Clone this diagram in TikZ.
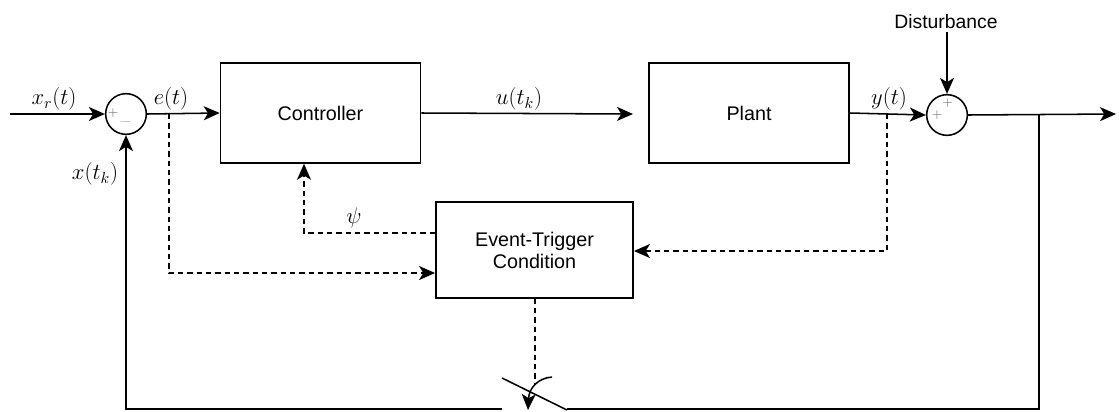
\RequirePackage{fix-cm}
\documentclass[tikz,border=0pt]{standalone}
\usepackage{fontspec}
\setsansfont{Liberation Sans}
\usetikzlibrary{arrows.meta}
\begin{document}
\begin{tikzpicture}[x=0.75pt,y=-0.75pt,
  line width=1.15pt,
  arr/.style={-{Stealth[length=12pt,width=10.5pt,inset=3.2pt]}},
  dsh/.style={dash pattern=on 4pt off 3pt},
  blockbox/.style={draw,rectangle,minimum width=150pt,minimum height=75pt,inner sep=0pt,font=\sffamily\fontsize{14.8}{16.5}\selectfont,align=center},
  etcbox/.style={draw,rectangle,minimum width=148pt,minimum height=72pt,inner sep=0pt,font=\sffamily\fontsize{14.8}{16.5}\selectfont,align=center},
  sumnode/.style={draw,circle,minimum size=30.5pt,inner sep=0pt},
  sgn/.style={text=gray!80!black,font=\fontsize{10}{10}\selectfont,inner sep=0pt},
  lbl/.style={font=\fontsize{17}{19}\selectfont,inner sep=0pt}]
\useasboundingbox (0,0) rectangle (1119,411);

% blocks
\node[blockbox] (ctrl) at (320.5,113) {Controller};
\node[blockbox] (plant) at (749,113) {Plant};
\node[etcbox] (etc) at (534.5,250) {Event-Trigger\\Condition};

% summing junctions
\node[sumnode] (s1) at (126,114) {};
\node[sgn] at (113,113) {+};
\node[sgn] at (125.5,121) {\_};
\node[sumnode] (s2) at (947,115) {};
\node[sgn] at (947.5,103) {+};
\node[sgn] at (937,115.5) {+};

% free ends and branch points
\coordinate (in) at (10,114);
\coordinate (ebr) at (169,114);
\coordinate (ybr) at (887,114);
\coordinate (obr) at (1039,114);
\coordinate (out) at (1116,114);
\coordinate (dist) at (947,32);
\coordinate (swL) at (502,409);
\coordinate (swR) at (567,409);
\coordinate (swA) at (502,378);
\coordinate (swB) at (567,410);

% forward path
\draw[arr] (in) -- (s1.west);
\draw[arr] (s1.east) -- (ctrl.west);
\draw[arr] (ctrl.east) -- (633,114);
\draw[arr] (plant.east) -- (s2.west);
\draw[arr] (s2.east) -- (out);
\draw[arr] (dist) -- (s2.north);

% feedback path through the sampling switch
\draw (obr) |- (swR);
\draw[arr] (swL) -| (s1.south);
\draw (swA) -- (swB);
\draw[arr] (552,377) .. controls (538,378) and (529,388) .. (528,410);

% event-trigger signals
\draw[dsh,arr] (ebr) |- (etc.west |- 0,273);
\draw[dsh,arr] (etc.west |- 0,233) -| (ctrl.south -| 304,0);
\draw[dsh,arr] (ybr) |- (etc.east |- 0,251);
\draw[dsh] (etc.south -| 535,0) -- (535,383);

% labels
\node[lbl] at (54,99) {$x_r(t)$};
\node[lbl] at (171,99) {$e(t)$};
\node[lbl] at (95,174) {$x(t_k)$};
\node[lbl] at (519,99) {$u(t_k)$};
\node[lbl] at (889,99) {$y(t)$};
\node[lbl] at (354,218) {$\psi$};
\node[font=\sffamily\fontsize{14.5}{16}\selectfont,inner sep=0pt] at (946,22) {Disturbance};
\end{tikzpicture}
\end{document}
